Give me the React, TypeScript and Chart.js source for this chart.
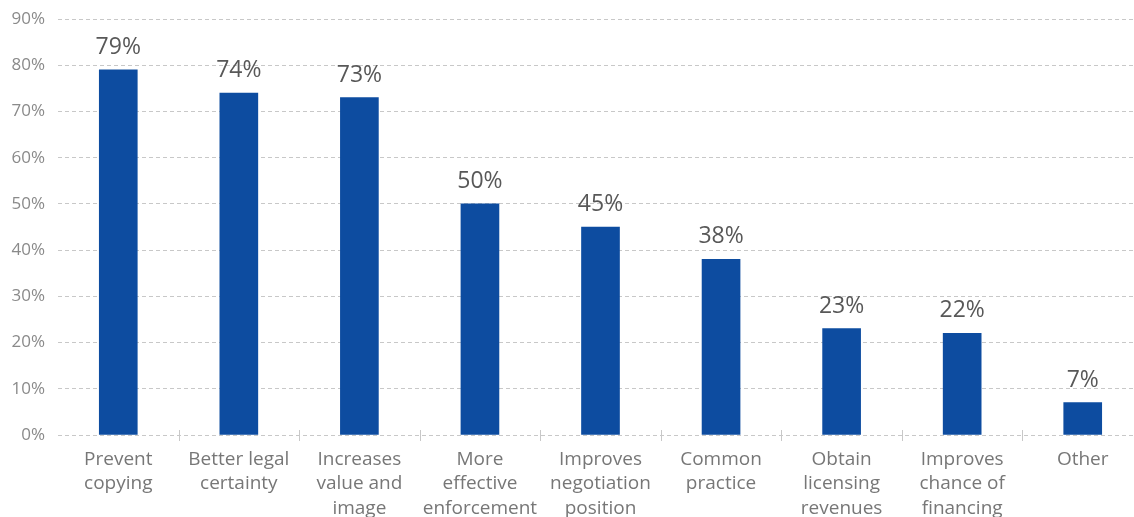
import React, { useEffect, useRef } from "react";
import { Chart, registerables } from "chart.js";

Chart.register(...registerables);

const categories: string[][] = [
  ["Prevent", "copying"],
  ["Better legal", "certainty"],
  ["Increases", "value and", "image"],
  ["More", "effective", "enforcement"],
  ["Improves", "negotiation", "position"],
  ["Common", "practice"],
  ["Obtain", "licensing", "revenues"],
  ["Improves", "chance of", "financing"],
  ["Other"],
];
const values: number[] = [79, 74, 73, 50, 45, 38, 23, 22, 7];
const yTicks: number[] = [0, 10, 20, 30, 40, 50, 60, 70, 80, 90];

const FONT = "'Open Sans', 'DejaVu Sans', sans-serif";
const BAR_COLOR = "#0d4ca0";
const GRID_COLOR = "#c8c8c8";

const CANVAS_W = 1143;
const CANVAS_H = 530;

export default function App() {
  const ref = useRef<HTMLCanvasElement | null>(null);

  useEffect(() => {
    document.body.style.overflow = "hidden";
    const canvas = ref.current;
    if (!canvas) return;

    const labelPlugin = {
      id: "valueLabels",
      afterDatasetsDraw(chart: any) {
        const ctx = chart.ctx;
        const meta = chart.getDatasetMeta(0);
        ctx.save();
        ctx.font = `23px ${FONT}`;
        ctx.fillStyle = "#585858";
        ctx.textAlign = "center";
        ctx.textBaseline = "alphabetic";
        meta.data.forEach((el: any, i: number) => {
          ctx.fillText(`${values[i]}%`, el.x, el.y - 16);
        });
        ctx.restore();
      },
    };

    const tickPlugin = {
      id: "catTicks",
      afterDraw(chart: any) {
        const ctx = chart.ctx;
        const xs = chart.scales.x;
        const ys = chart.scales.y;
        const y0 = ys.getPixelForValue(0);
        ctx.save();
        ctx.strokeStyle = GRID_COLOR;
        ctx.lineWidth = 1;
        for (let i = 0; i < categories.length - 1; i++) {
          const x = Math.round((xs.getPixelForValue(i) + xs.getPixelForValue(i + 1)) / 2) + 0.5;
          ctx.beginPath();
          ctx.moveTo(x, y0 - 5);
          ctx.lineTo(x, y0 + 6);
          ctx.stroke();
        }
        ctx.restore();
      },
    };

    const chart = new Chart(canvas, {
      type: "bar",
      data: {
        labels: categories,
        datasets: [
          {
            data: values,
            backgroundColor: BAR_COLOR,
            borderWidth: 0,
            barThickness: 38,
          },
        ],
      },
      options: {
        animation: false,
        responsive: false,
        maintainAspectRatio: false,
        layout: { padding: { top: 19, right: 0, left: 0, bottom: 0 } },
        plugins: {
          legend: { display: false },
          tooltip: { enabled: false },
        },
        scales: {
          x: {
            offset: true,
            border: { display: false },
            grid: { display: false, drawTicks: false },
            ticks: {
              color: "#777777",
              padding: 12,
              maxRotation: 0,
              autoSkip: false,
              font: { family: FONT, size: 19, lineHeight: 1.3 },
            },
            afterFit(scale: any) {
              scale.height = CANVAS_H - 435;
              scale.paddingLeft = 0;
              scale.paddingRight = 0;
            },
          },
          y: {
            min: 0,
            max: 90,
            afterBuildTicks(scale: any) {
              scale.ticks = yTicks.map((v) => ({ value: v }));
            },
            grid: {
              color: GRID_COLOR,
              drawTicks: false,
              lineWidth: 1,
            },
            border: { display: false, dash: [4, 3] },
            ticks: {
              color: "#8a8a8a",
              padding: 13,
              font: { family: FONT, size: 17 },
              callback: (v: any) => `${v}%`,
            },
            afterFit(scale: any) {
              scale.width = 58;
              scale.paddingTop = 0;
              scale.paddingBottom = 0;
            },
          },
        },
      },
      plugins: [labelPlugin, tickPlugin],
    } as any);

    return () => chart.destroy();
  }, []);

  return (
    <div style={{ position: "fixed", left: 0, top: 0, width: CANVAS_W, height: CANVAS_H }}>
      <canvas ref={ref} width={CANVAS_W} height={CANVAS_H} style={{ width: CANVAS_W, height: CANVAS_H, display: "block" }} />
    </div>
  );
}
